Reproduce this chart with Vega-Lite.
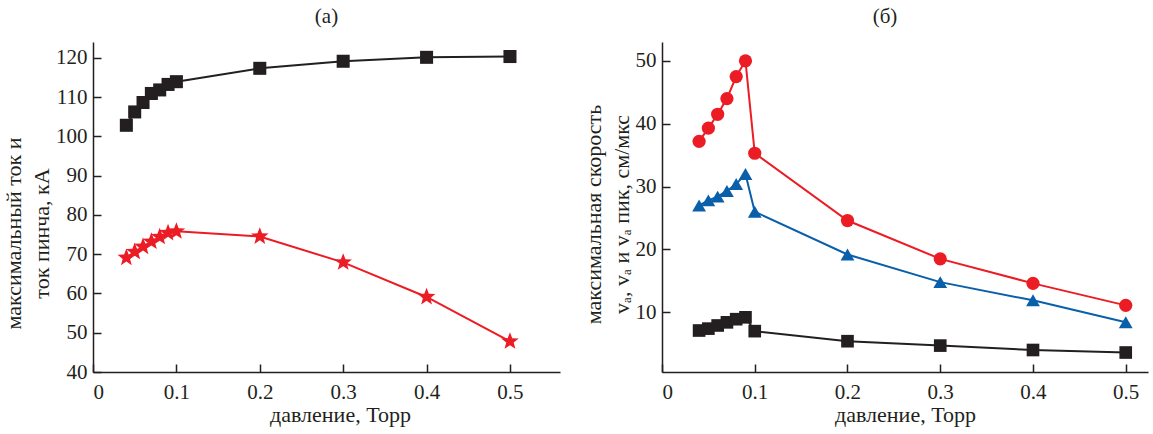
{
  "$schema": "https://vega.github.io/schema/vega-lite/v6.json",
  "background": "white",
  "padding": {"left": 2, "top": 6, "right": 3, "bottom": 5},
  "datasets": {
    "left": [
      {"p": 0.04, "v": 102.8, "s": "пик кА"},
      {"p": 0.05, "v": 106.2, "s": "пик кА"},
      {"p": 0.06, "v": 108.6, "s": "пик кА"},
      {"p": 0.07, "v": 110.9, "s": "пик кА"},
      {"p": 0.08, "v": 111.8, "s": "пик кА"},
      {"p": 0.09, "v": 113.2, "s": "пик кА"},
      {"p": 0.1, "v": 113.9, "s": "пик кА"},
      {"p": 0.2, "v": 117.3, "s": "пик кА"},
      {"p": 0.3, "v": 119.1, "s": "пик кА"},
      {"p": 0.4, "v": 120.1, "s": "пик кА"},
      {"p": 0.5, "v": 120.3, "s": "пик кА"},
      {"p": 0.04, "v": 69.1, "s": "пинч кА"},
      {"p": 0.05, "v": 70.6, "s": "пинч кА"},
      {"p": 0.06, "v": 71.9, "s": "пинч кА"},
      {"p": 0.07, "v": 73.2, "s": "пинч кА"},
      {"p": 0.08, "v": 74.4, "s": "пинч кА"},
      {"p": 0.09, "v": 75.4, "s": "пинч кА"},
      {"p": 0.1, "v": 75.8, "s": "пинч кА"},
      {"p": 0.2, "v": 74.5, "s": "пинч кА"},
      {"p": 0.3, "v": 67.9, "s": "пинч кА"},
      {"p": 0.4, "v": 59.1, "s": "пинч кА"},
      {"p": 0.5, "v": 47.8, "s": "пинч кА"}
    ],
    "right": [
      {"p": 0.04, "v": 7.1, "s": "vₐ пик"},
      {"p": 0.05, "v": 7.4, "s": "vₐ пик"},
      {"p": 0.06, "v": 7.9, "s": "vₐ пик"},
      {"p": 0.07, "v": 8.4, "s": "vₐ пик"},
      {"p": 0.08, "v": 8.9, "s": "vₐ пик"},
      {"p": 0.09, "v": 9.2, "s": "vₐ пик"},
      {"p": 0.1, "v": 7.0, "s": "vₐ пик"},
      {"p": 0.2, "v": 5.4, "s": "vₐ пик"},
      {"p": 0.3, "v": 4.7, "s": "vₐ пик"},
      {"p": 0.4, "v": 4.0, "s": "vₐ пик"},
      {"p": 0.5, "v": 3.6, "s": "vₐ пик"},
      {"p": 0.04, "v": 37.2, "s": "vₛ пик"},
      {"p": 0.05, "v": 39.3, "s": "vₛ пик"},
      {"p": 0.06, "v": 41.5, "s": "vₛ пик"},
      {"p": 0.07, "v": 44.0, "s": "vₛ пик"},
      {"p": 0.08, "v": 47.5, "s": "vₛ пик"},
      {"p": 0.09, "v": 50.0, "s": "vₛ пик"},
      {"p": 0.1, "v": 35.3, "s": "vₛ пик"},
      {"p": 0.2, "v": 24.6, "s": "vₛ пик"},
      {"p": 0.3, "v": 18.5, "s": "vₛ пик"},
      {"p": 0.4, "v": 14.6, "s": "vₛ пик"},
      {"p": 0.5, "v": 11.1, "s": "vₛ пик"},
      {"p": 0.04, "v": 27.0, "s": "vₚ пик"},
      {"p": 0.05, "v": 27.8, "s": "vₚ пик"},
      {"p": 0.06, "v": 28.4, "s": "vₚ пик"},
      {"p": 0.07, "v": 29.3, "s": "vₚ пик"},
      {"p": 0.08, "v": 30.4, "s": "vₚ пик"},
      {"p": 0.09, "v": 32.0, "s": "vₚ пик"},
      {"p": 0.1, "v": 26.0, "s": "vₚ пик"},
      {"p": 0.2, "v": 19.2, "s": "vₚ пик"},
      {"p": 0.3, "v": 14.8, "s": "vₚ пик"},
      {"p": 0.4, "v": 11.9, "s": "vₚ пик"},
      {"p": 0.5, "v": 8.4, "s": "vₚ пик"}
    ]
  },
  "config": {
    "font": "Liberation Serif",
    "view": {"stroke": null},
    "axis": {
      "grid": false,
      "domainColor": "#231f20",
      "domainWidth": 1.5,
      "tickColor": "#231f20",
      "tickWidth": 1.5,
      "tickSize": -8,
      "labelFont": "Liberation Serif",
      "labelFontSize": 21,
      "labelColor": "#231f20",
      "titleFont": "Liberation Serif",
      "titleFontSize": 22,
      "titleFontWeight": "normal",
      "titleColor": "#231f20",
      "titlePadding": 2
    },
    "title": {"font": "Liberation Serif", "fontSize": 21, "fontWeight": "normal", "color": "#231f20"},
    "concat": {"spacing": 22}
  },
  "resolve": {
    "scale": {"color": "independent", "shape": "independent", "size": "independent"},
    "legend": {"color": "independent", "shape": "independent", "size": "independent"}
  },
  "hconcat": [
    {
      "width": 467,
      "height": 330,
      "title": {"text": "(а)", "offset": 15},
      "data": {"name": "left"},
      "encoding": {
        "x": {
          "field": "p", "type": "quantitative",
          "scale": {"domain": [0, 0.56], "nice": false},
          "axis": {"values": [0, 0.1, 0.2, 0.3, 0.4, 0.5], "format": "~g", "title": "давление, Торр", "labelPadding": 17, "titleX": 247}
        },
        "y": {
          "field": "v", "type": "quantitative",
          "scale": {"domain": [40, 124], "nice": false},
          "axis": {"values": [40, 50, 60, 70, 80, 90, 100, 110, 120], "title": ["максимальный ток и", "ток пинча, кА"], "titleLineHeight": 28, "titleY": 191, "labelPadding": 14}
        },
        "color": {
          "field": "s", "type": "nominal",
          "scale": {"domain": ["пик кА", "пинч кА"], "range": ["#231f20", "#ec1c24"]},
          "legend": null
        }
      },
      "layer": [
        {"mark": {"type": "line", "strokeWidth": 2}, "encoding": {}},
        {
          "mark": {"type": "point", "filled": true, "opacity": 1},
          "encoding": {
            "size": {"field": "s", "type": "nominal", "scale": {"domain": ["пик кА", "пинч кА"], "range": [170, 340]}, "legend": null},
            "shape": {
              "field": "s", "type": "nominal",
              "scale": {"domain": ["пик кА", "пинч кА"], "range": ["square", "M0,-1L0.247,-0.34L0.951,-0.309L0.399,0.13L0.588,0.809L0,0.42L-0.588,0.809L-0.399,0.13L-0.951,-0.309L-0.247,-0.34Z"]},
              "legend": {
                "orient": "none", "legendX": 304, "legendY": 45, "title": null,
                "labelFont": "Liberation Serif", "labelFontSize": 18, "labelColor": "#231f20",
                "labelOffset": 22, "rowPadding": 13, "symbolSize": 100, "padding": 0,
                "encode": {"symbols": {"update": {
                  "shape": {"signal": "datum.value === 'пик кА' ? 'M-4,0H4M-1.3,-1.3H1.3V1.3H-1.3Z' : 'M-4,0H4M0,-2L0.47,-0.647L1.902,-0.618L0.761,0.247L1.176,1.618L0,0.8L-1.176,1.618L-0.761,0.247L-1.902,-0.618L-0.47,-0.647Z'"},
                  "fill": {"signal": "datum.value === 'пик кА' ? '#231f20' : '#ec1c24'"},
                  "stroke": {"signal": "datum.value === 'пик кА' ? '#231f20' : '#ec1c24'"},
                  "strokeWidth": {"value": 2},
                  "opacity": {"value": 1}
                }}}
              }
            }
          }
        }
      ]
    },
    {
      "width": 486,
      "height": 330,
      "title": {"text": "(б)", "offset": 15, "dx": -20},
      "data": {"name": "right"},
      "encoding": {
        "x": {
          "field": "p", "type": "quantitative",
          "scale": {"domain": [0, 0.524], "nice": false},
          "axis": {"values": [0, 0.1, 0.2, 0.3, 0.4, 0.5], "format": "~g", "title": "давление, Торр", "labelPadding": 17}
        },
        "y": {
          "field": "v", "type": "quantitative",
          "scale": {"domain": [0.5, 53], "nice": false},
          "axis": {"values": [10, 20, 30, 40, 50], "title": ["максимальная скорость", "vₐ, vₐ и vₐ пик, см/мкс"], "titleLineHeight": 28, "titleY": 172, "labelPadding": 14}
        },
        "color": {
          "field": "s", "type": "nominal",
          "scale": {"domain": ["vₐ пик", "vₛ пик", "vₚ пик"], "range": ["#231f20", "#ec1c24", "#0a5fab"]},
          "legend": null
        }
      },
      "layer": [
        {"mark": {"type": "line", "strokeWidth": 2}, "encoding": {}},
        {
          "mark": {"type": "point", "filled": true, "opacity": 1},
          "encoding": {
            "size": {"field": "s", "type": "nominal", "scale": {"domain": ["vₐ пик", "vₛ пик", "vₚ пик"], "range": [160, 190, 230]}, "legend": null},
            "shape": {
              "field": "s", "type": "nominal",
              "scale": {"domain": ["vₐ пик", "vₛ пик", "vₚ пик"], "range": ["square", "circle", "triangle-up"]},
              "legend": {
                "orient": "none", "legendX": 263, "legendY": 50, "title": null,
                "labelFont": "Liberation Serif", "labelFontSize": 18, "labelColor": "#231f20",
                "labelOffset": 23, "rowPadding": 10, "symbolSize": 100, "padding": 0,
                "encode": {"symbols": {"update": {
                  "shape": {"signal": "datum.value === 'vₐ пик' ? 'M-4.5,0H4.5M-1.2,-1.2H1.2V1.2H-1.2Z' : datum.value === 'vₛ пик' ? 'M-4.5,0H4.5M-1.5,0A1.5,1.5,0,1,0,1.5,0A1.5,1.5,0,1,0,-1.5,0Z' : 'M-4.5,0H4.5M0,-1.8L1.8,1.1L-1.8,1.1Z'"},
                  "fill": {"signal": "datum.value === 'vₐ пик' ? '#231f20' : datum.value === 'vₛ пик' ? '#ec1c24' : '#0a5fab'"},
                  "stroke": {"signal": "datum.value === 'vₐ пик' ? '#231f20' : datum.value === 'vₛ пик' ? '#ec1c24' : '#0a5fab'"},
                  "strokeWidth": {"value": 2},
                  "opacity": {"value": 1}
                }}}
              }
            }
          }
        }
      ]
    }
  ]
}
